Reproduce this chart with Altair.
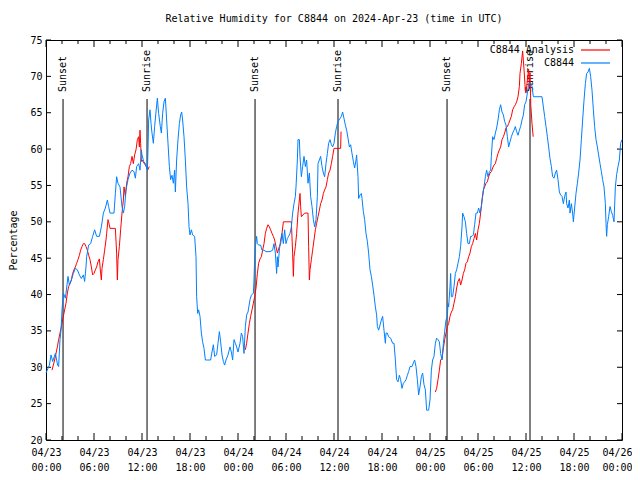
import altair as alt
import pandas as pd

# ---------------- data (hours after 2024-04-23 00:00 UTC) ----------------
blue_hours = [0.0, 0.42, 0.63, 0.83, 1.17, 1.46, 1.58, 1.75, 1.88, 2.0, 2.17, 2.42, 2.58, 2.75, 2.92, 3.17, 3.42, 3.67, 3.92, 4.17, 4.42, 4.67, 4.83, 5.0, 5.08, 5.33, 5.58, 5.83, 6.08, 6.33, 6.67, 6.92, 7.17, 7.42, 7.67, 7.83, 8.0, 8.5, 8.67, 8.83, 9.0, 9.25, 9.5, 9.67, 9.83, 10.0, 10.25, 10.5, 10.75, 11.0, 11.17, 11.33, 11.58, 11.75, 11.92, 12.0,
              12.21, 12.42, 12.67, 12.75, 12.83, 13.0, 13.13, 13.25, 13.42, 13.58, 13.75, 13.92, 14.08, 14.29, 14.42, 14.58, 14.75, 14.92, 15.08, 15.25, 15.42, 15.58, 15.75, 15.92, 16.08, 16.17, 16.33, 16.5, 16.67, 16.83, 16.96, 17.08, 17.25, 17.42, 17.58, 17.75, 17.88, 18.0, 18.17, 18.33, 18.58, 18.75, 18.83, 18.96, 19.08, 19.25, 19.42, 19.58, 19.75, 19.92, 20.17, 20.58, 20.75, 20.92, 21.08, 21.33, 21.5, 21.67, 21.83, 22.0, 22.17, 22.33, 22.5, 22.75, 23.0, 23.17, 23.33, 23.5, 23.67, 23.83, 24.0,
              24.25, 24.42, 24.58, 24.75, 24.92, 25.08, 25.25, 25.5, 25.67, 25.92, 26.0, 26.08, 26.17, 26.33, 26.42, 26.58, 26.83, 27.0, 27.25, 27.5, 28.0, 28.33, 28.5, 28.67, 28.83, 28.92, 29.0, 29.17, 29.33, 29.5, 29.67, 29.83, 30.0, 30.17, 30.33, 30.5, 30.67, 30.83, 31.0, 31.17, 31.25, 31.42, 31.5, 31.67, 31.75, 31.92, 32.08, 32.25, 32.42, 32.58, 32.75, 32.92, 33.08, 33.25, 33.42, 33.58, 33.75, 33.92, 34.0, 34.17, 34.33, 34.5, 34.67, 34.83, 35.0, 35.17, 35.33, 35.5, 35.67, 35.83, 36.0,
              36.17, 36.33, 36.5, 36.75, 36.92, 37.08, 37.25, 37.42, 37.58, 37.75, 37.92, 38.08, 38.25, 38.42, 38.58, 38.75, 38.83, 39.0, 39.08, 39.25, 39.42, 39.5, 39.67, 39.83, 40.0, 40.17, 40.33, 40.5, 40.67, 40.83, 41.0, 41.17, 41.33, 41.42, 41.58, 41.75, 41.92, 42.08, 42.25, 42.42, 42.5, 42.67, 42.83, 43.08, 43.33, 43.5, 43.67, 43.83, 44.0, 44.17, 44.33, 44.5, 44.67, 44.83, 45.0, 45.17, 45.33, 45.5, 45.75, 45.92, 46.08, 46.25, 46.42, 46.58, 46.75, 46.92, 47.08, 47.25, 47.42, 47.58, 47.83, 48.0,
              48.17, 48.33, 48.5, 48.67, 48.83, 49.0, 49.17, 49.33, 49.5, 49.67, 49.83, 50.0, 50.17, 50.25, 50.33, 50.5, 50.58, 50.67, 50.83, 51.0, 51.17, 51.33, 51.5, 51.67, 51.83, 52.0, 52.08, 52.25, 52.42, 52.58, 52.75, 52.92, 53.08, 53.25, 53.42, 53.58, 53.75, 53.92, 54.08, 54.25, 54.42, 54.58, 54.75, 54.92, 55.08, 55.25, 55.42, 55.58, 55.67, 55.83, 56.0, 56.17, 56.33, 56.5, 56.67, 56.83, 57.0, 57.17, 57.33, 57.5, 57.67, 57.83, 58.0, 58.17, 58.33, 58.5, 58.67, 58.83, 59.0, 59.17, 59.33, 59.5, 59.67, 59.83, 60.0,
              60.17, 60.33, 60.67, 60.75, 60.92, 62.0, 62.17, 62.33, 62.5, 62.67, 62.83, 63.0, 63.17, 63.33, 63.5, 63.67, 63.83, 64.0, 64.17, 64.33, 64.5, 64.67, 64.83, 65.0, 65.08, 65.25, 65.42, 65.5, 65.67, 65.83, 65.92, 66.08, 66.25, 66.42, 66.58, 66.75, 66.92, 67.08, 67.25, 67.42, 67.58, 67.75, 67.92, 68.08, 68.25, 68.42, 68.58, 68.75, 68.92, 69.08, 69.25, 69.42, 69.58, 69.75, 69.92, 70.0, 70.08, 70.17, 70.33, 70.5, 70.67, 70.83, 71.0, 71.17, 71.33, 71.5, 71.67, 71.83, 72.0]
blue_rh = [29.2, 30.3, 31.7, 30.8, 31.9, 30.3, 30.1, 33.8, 35.1, 37.9, 40.2, 39.5, 40.9, 42.5, 41.3, 42.0, 42.9, 43.6, 43.4, 42.7, 42.2, 42.7, 41.8, 43.8, 45.2, 46.8, 47.0, 48.0, 48.9, 48.0, 48.0, 49.3, 51.2, 51.9, 53.0, 52.1, 51.2, 51.2, 53.9, 56.2, 55.3, 54.8, 52.1, 51.2, 52.1, 54.4, 55.8, 56.7, 57.1, 56.9, 56.0, 57.6, 58.0, 57.1, 59.9, 59.2,
           58.3, 58.0, 57.1, 59.9, 64.0, 65.4, 63.5, 62.2, 60.8, 63.1, 65.1, 67.0, 64.9, 63.1, 62.2, 64.9, 66.5, 67.0, 64.0, 60.8, 57.6, 55.8, 56.4, 55.3, 57.1, 54.1, 58.5, 61.3, 63.5, 64.7, 65.1, 64.0, 61.7, 58.5, 54.8, 52.5, 49.3, 48.2, 48.9, 48.2, 48.0, 45.2, 39.7, 37.4, 37.9, 37.0, 34.7, 33.5, 32.6, 31.0, 31.0, 31.0, 32.1, 33.1, 31.5, 31.7, 33.3, 34.9, 33.5, 31.7, 30.8, 30.3, 31.0, 31.7, 32.8, 32.1, 31.0, 33.8, 33.3, 32.8, 32.1,
           33.3, 34.7, 34.2, 31.9, 35.6, 37.2, 37.6, 39.3, 39.9, 40.2, 42.0, 44.8, 46.6, 48.0, 47.0, 46.8, 46.8, 46.1, 46.1, 45.9, 45.9, 46.1, 47.0, 45.7, 42.9, 45.2, 43.8, 46.1, 47.5, 48.4, 47.0, 48.9, 47.0, 47.7, 48.0, 48.4, 49.3, 51.2, 52.5, 53.5, 54.8, 58.5, 61.3, 61.3, 59.0, 56.2, 57.6, 59.0, 57.6, 58.5, 55.3, 56.7, 53.5, 52.1, 50.3, 49.3, 50.3, 53.5, 58.0, 58.5, 59.0, 57.6, 56.7, 56.2, 58.0, 59.4, 60.8, 61.3, 60.6, 60.3, 60.8,
           62.2, 63.1, 63.8, 64.2, 64.5, 65.1, 64.2, 63.3, 62.6, 61.5, 60.3, 60.6, 59.4, 58.3, 57.4, 58.5, 59.2, 56.2, 53.2, 53.7, 53.9, 53.2, 51.4, 50.3, 48.4, 47.3, 45.7, 43.4, 42.5, 41.3, 39.9, 38.3, 37.2, 35.6, 35.1, 35.8, 36.5, 37.0, 35.1, 33.3, 34.7, 34.7, 34.2, 34.0, 33.3, 33.3, 31.0, 28.3, 28.0, 28.9, 28.3, 27.1, 27.8, 28.0, 28.3, 28.9, 29.4, 30.1, 30.1, 30.6, 31.0, 30.1, 28.3, 26.2, 27.3, 28.7, 29.2, 27.6, 26.9, 24.1, 24.1, 25.5,
           29.6, 31.0, 31.5, 33.3, 34.0, 33.8, 33.5, 31.9, 31.0, 33.3, 34.9, 36.5, 37.0, 38.8, 38.3, 41.1, 42.9, 39.7, 39.7, 41.1, 42.9, 43.4, 44.3, 45.2, 46.6, 49.3, 51.2, 50.7, 50.0, 48.4, 47.0, 47.0, 48.0, 48.0, 48.2, 49.6, 51.2, 51.2, 51.9, 51.2, 52.1, 53.5, 54.8, 56.2, 57.1, 56.2, 56.9, 57.1, 59.0, 61.7, 61.3, 62.2, 62.9, 64.0, 65.4, 66.1, 65.1, 64.7, 63.8, 63.3, 61.7, 60.3, 61.0, 61.7, 62.2, 62.6, 63.1, 62.4, 61.9, 62.6, 63.1, 64.0, 64.7, 66.1, 66.5,
           67.7, 69.0, 69.0, 68.6, 67.2, 67.2, 65.8, 64.5, 63.1, 61.7, 60.3, 58.7, 57.6, 56.2, 56.0, 56.7, 57.1, 55.8, 54.1, 53.7, 53.5, 52.5, 53.5, 54.1, 52.5, 51.9, 53.0, 51.2, 52.5, 51.2, 50.0, 51.9, 53.9, 55.3, 56.7, 58.5, 61.3, 64.0, 66.7, 69.0, 70.4, 70.6, 71.1, 70.0, 68.1, 65.4, 63.1, 61.3, 60.3, 59.2, 58.0, 56.9, 55.8, 54.8, 52.5, 49.8, 48.0, 49.6, 50.7, 52.1, 51.4, 50.9, 50.0, 54.8, 56.5, 57.6, 58.5, 60.8, 61.3]

# analysis series: three separate nightly runs
red_hours_1 = [0.75, 0.92, 1.08, 1.25, 1.42, 1.58, 1.75, 1.92, 2.08, 2.33, 2.5, 2.67, 2.83, 3.0, 3.17, 3.33, 3.5, 3.67, 3.83, 4.0, 4.17, 4.33, 4.5, 4.67, 4.83, 5.0, 5.17, 5.33, 5.5, 5.67, 5.83, 6.0, 6.17, 6.33, 6.5, 6.67, 6.83, 6.92, 7.0, 7.17, 7.33, 7.5, 7.58, 7.75, 7.83, 8.0, 8.67, 8.83, 8.92, 9.0, 9.17, 9.33, 9.5, 9.67, 9.75, 9.92, 10.08, 10.25, 10.42, 10.58, 10.75, 10.92, 11.08, 11.25, 11.42, 11.58, 11.67, 11.75, 11.83, 11.92, 12.0, 12.42, 12.75, 12.9]
red_rh_1 = [29.6, 30.3, 31.0, 31.9, 32.8, 33.8, 34.7, 35.6, 36.5, 37.9, 38.8, 40.2, 41.1, 41.5, 42.0, 42.9, 43.4, 43.8, 44.3, 44.8, 45.4, 46.1, 46.6, 47.0, 47.0, 46.6, 46.1, 45.4, 44.8, 43.8, 42.7, 42.9, 43.4, 43.8, 44.5, 44.9, 42.9, 42.0, 43.6, 44.8, 46.1, 47.5, 48.4, 50.3, 50.0, 49.1, 49.1, 45.7, 42.0, 44.8, 46.6, 48.9, 51.2, 53.0, 54.8, 53.5, 55.3, 56.2, 57.6, 58.0, 59.0, 58.0, 59.2, 59.9, 61.3, 61.7, 60.3, 62.6, 60.8, 58.3, 58.5, 57.8, 57.2, 57.6]
red_hours_2 = [24.92, 25.08, 25.25, 25.42, 25.58, 25.75, 25.92, 26.08, 26.25, 26.42, 26.58, 26.75, 26.92, 27.08, 27.25, 27.42, 27.58, 27.75, 27.92, 28.08, 28.25, 28.42, 28.58, 28.75, 28.92, 29.17, 29.33, 29.5, 29.67, 30.67, 30.83, 30.92, 31.0, 31.17, 31.33, 31.5, 31.67, 31.75, 31.83, 31.92, 32.33, 32.75, 32.83, 32.92, 33.0, 33.17, 33.33, 33.5, 33.67, 33.83, 34.0, 34.17, 34.33, 34.5, 34.67, 34.83, 35.0, 35.17, 35.33, 35.5, 35.67, 35.83, 36.0, 36.83, 36.88]
red_rh_2 = [32.4, 33.3, 34.7, 36.0, 37.0, 37.9, 38.8, 39.7, 40.9, 42.9, 44.3, 44.9, 45.2, 46.1, 47.0, 48.4, 49.1, 49.6, 49.3, 48.9, 48.4, 48.0, 47.5, 46.6, 45.7, 46.6, 47.0, 48.4, 50.0, 50.0, 45.7, 42.5, 45.2, 46.6, 48.4, 51.2, 53.0, 53.9, 52.1, 50.7, 51.2, 51.2, 46.6, 42.0, 43.4, 44.8, 46.1, 47.5, 48.9, 49.8, 50.7, 51.6, 52.5, 53.0, 53.9, 54.4, 54.8, 55.8, 56.7, 57.1, 58.0, 59.0, 60.1, 60.1, 62.4]
red_hours_3 = [48.67, 48.83, 49.0, 49.17, 49.33, 49.5, 49.67, 49.83, 50.0, 50.17, 50.33, 50.5, 50.67, 50.83, 51.0, 51.17, 51.33, 51.5, 51.67, 51.83, 52.0, 52.17, 52.33, 52.5, 52.67, 52.83, 53.0, 53.17, 53.33, 53.5, 53.67, 53.83, 54.0, 54.17, 54.33, 54.5, 54.67, 54.83, 55.0, 55.17, 55.33, 55.5, 55.67, 55.83, 56.0, 56.17, 56.33, 56.5, 56.67, 56.83, 57.0, 57.17, 57.33, 57.5, 57.67, 57.83, 58.0, 58.17, 58.33, 58.5, 58.67, 58.83, 59.0, 59.17, 59.25, 59.42, 59.58, 59.75, 59.92, 60.0, 60.17, 60.33, 60.42, 60.5, 60.6, 60.75, 60.9]
red_rh_3 = [26.6, 27.1, 28.3, 29.6, 31.0, 31.2, 32.6, 33.8, 34.7, 35.6, 36.0, 37.0, 37.6, 37.9, 38.8, 39.7, 40.9, 41.8, 42.2, 41.3, 42.0, 42.9, 43.4, 44.3, 44.5, 45.2, 45.7, 46.6, 47.0, 47.7, 48.4, 47.5, 48.9, 49.8, 51.2, 53.0, 54.4, 54.8, 55.3, 55.5, 56.2, 56.7, 56.9, 57.4, 57.8, 58.0, 58.7, 59.4, 59.9, 60.3, 61.3, 61.7, 62.2, 62.9, 63.1, 63.5, 64.0, 64.5, 65.4, 65.8, 66.1, 66.5, 67.2, 68.6, 70.4, 71.8, 73.5, 71.0, 68.0, 67.7, 69.5, 71.0, 68.5, 70.5, 66.0, 63.5, 61.7]

sun_hours = [2.13, 12.63, 26.13, 36.5, 50.13, 60.5]
sun_labels = ["Sunset", "Sunrise", "Sunset", "Sunrise", "Sunset", "Sunrise"]

y_ticks = [20, 25, 30, 35, 40, 45, 50, 55, 60, 65, 70, 75]
x_major_hours = [0, 6, 12, 18, 24, 30, 36, 42, 48, 54, 60, 66, 72]
x_minor_hours = [2, 4, 8, 10, 14, 16, 20, 22, 26, 28, 32, 34, 38, 40, 44, 46, 50, 52, 56, 58, 62, 64, 68, 70]

title_text = "Relative Humidity for C8844 on 2024-Apr-23 (time in UTC)"
legend_names = ["C8844 Analysis", "C8844"]
RED = "#ff0000"
BLUE = "#0080ff"
FONT = "DejaVu Sans Mono"

# ---------------- helpers ----------------
base = pd.Timestamp("2024-04-23T00:00:00Z")


def iso(hours):
    return [(base + pd.Timedelta(hours=h)).strftime("%Y-%m-%dT%H:%M:%SZ") for h in hours]


blue_df = pd.DataFrame({"t": iso(blue_hours), "rh": blue_rh})
red_df = pd.concat([
    pd.DataFrame({"t": iso(hh), "rh": vv, "seg": k})
    for k, (hh, vv) in enumerate([(red_hours_1, red_rh_1), (red_hours_2, red_rh_2), (red_hours_3, red_rh_3)])
], ignore_index=True)
sun_df = pd.DataFrame({"t": iso(sun_hours), "label": sun_labels})
yt_df = pd.DataFrame({"rh": y_ticks})
xmaj_df = pd.DataFrame({"t": iso(x_major_hours)})
xmin_df = pd.DataFrame({"t": iso(x_minor_hours)})

x_scale = alt.Scale(type="utc", domain=[alt.DateTime(year=2024, month=4, date=23, utc=True),
                                        alt.DateTime(year=2024, month=4, date=26, utc=True)])
x_vals = [alt.DateTime(year=2024, month=4, date=23 + h // 24, hours=h % 24, utc=True) for h in x_major_hours]
x_axis = alt.Axis(values=x_vals, ticks=False, domain=False, grid=False,
                  labelExpr="[utcFormat(datum.value, '%m/%d'), utcFormat(datum.value, '%H:%M')]",
                  labelFont=FONT, labelFontSize=10, labelColor="black", labelPadding=7,
                  labelLineHeight=15, labelBaseline="top", labelFlush=False, labelOverlap=False,
                  labelOffset={"condition": {"test": "datum.value >= utc(2024, 3, 25, 23)", "value": -5},
                               "value": 0},
                  title=None)
y_scale = alt.Scale(domain=[20, 75], nice=False, zero=False)
y_axis = alt.Axis(values=y_ticks, ticks=False, domain=False, grid=False,
                  labelFont=FONT, labelFontSize=10, labelColor="black", labelPadding=4,
                  title="Percentage", titleFont=FONT, titleFontSize=10, titleFontWeight="normal",
                  titleColor="black", titleAngle=270, titleX=-33, titleY=200,
                  titleAlign="center", titleBaseline="middle")


def X():
    return alt.X("t:T", scale=x_scale, axis=x_axis)


def Y():
    return alt.Y("rh:Q", scale=y_scale, axis=y_axis)


sun_rules = alt.Chart(sun_df).mark_rule(color="black", strokeWidth=1).encode(
    x=X(), y=alt.value(400), y2=alt.value(59))
sun_text = alt.Chart(sun_df).mark_text(angle=270, align="left", baseline="middle",
                                       font=FONT, fontSize=10, color="black").encode(
    x=X(), y=alt.value(52), text="label:N")

ytick_l = alt.Chart(yt_df).mark_rule(color="black").encode(y=Y(), x=alt.value(0), x2=alt.value(5))
ytick_r = alt.Chart(yt_df).mark_rule(color="black").encode(y=Y(), x=alt.value(571), x2=alt.value(576))
xmaj_b = alt.Chart(xmaj_df).mark_rule(color="black").encode(x=X(), y=alt.value(400), y2=alt.value(393))
xmaj_t = alt.Chart(xmaj_df).mark_rule(color="black").encode(x=X(), y=alt.value(0), y2=alt.value(7))
xmin_b = alt.Chart(xmin_df).mark_rule(color="black").encode(x=X(), y=alt.value(400), y2=alt.value(396))
xmin_t = alt.Chart(xmin_df).mark_rule(color="black").encode(x=X(), y=alt.value(0), y2=alt.value(4))

red_line = alt.Chart(red_df).mark_line(color=RED, strokeWidth=1, interpolate="linear").encode(
    x=X(), y=Y(), detail="seg:N")
blue_line = alt.Chart(blue_df).mark_line(color=BLUE, strokeWidth=1, interpolate="linear").encode(x=X(), y=Y())

title_df = pd.DataFrame({"title": [title_text]})
title_mark = alt.Chart(title_df).mark_text(align="center", baseline="middle", font=FONT, fontSize=10,
                                           color="black").encode(
    text="title:N", x=alt.value(288), y=alt.value(-21))

leg_df = pd.DataFrame({"name": legend_names})
leg_red_t = alt.Chart(leg_df.iloc[[0]]).mark_text(align="right", baseline="middle", font=FONT,
                                                  fontSize=10, color="black").encode(
    text="name:N", x=alt.value(528), y=alt.value(10))
leg_blue_t = alt.Chart(leg_df.iloc[[1]]).mark_text(align="right", baseline="middle", font=FONT,
                                                   fontSize=10, color="black").encode(
    text="name:N", x=alt.value(528), y=alt.value(23))
leg_red_l = alt.Chart(leg_df.iloc[[0]]).mark_rule(strokeWidth=1.2).encode(
    x=alt.value(535), x2=alt.value(564), y=alt.value(10), color=alt.value(RED))
leg_blue_l = alt.Chart(leg_df.iloc[[1]]).mark_rule(strokeWidth=1.2).encode(
    x=alt.value(535), x2=alt.value(564), y=alt.value(23), color=alt.value(BLUE))

chart = alt.layer(
    sun_rules, sun_text, ytick_l, ytick_r, xmaj_b, xmaj_t, xmin_b, xmin_t,
    red_line, blue_line, title_mark, leg_red_t, leg_blue_t, leg_red_l, leg_blue_l
).properties(
    width=576, height=400,
    autosize=alt.AutoSizeParams(type="none"),
    padding={"left": 38, "top": 32, "right": 10, "bottom": 32},
    background="white",
).configure_view(stroke="black", strokeWidth=1)

chart.save("out.html", embed_options={"renderer": "svg", "actions": False})
